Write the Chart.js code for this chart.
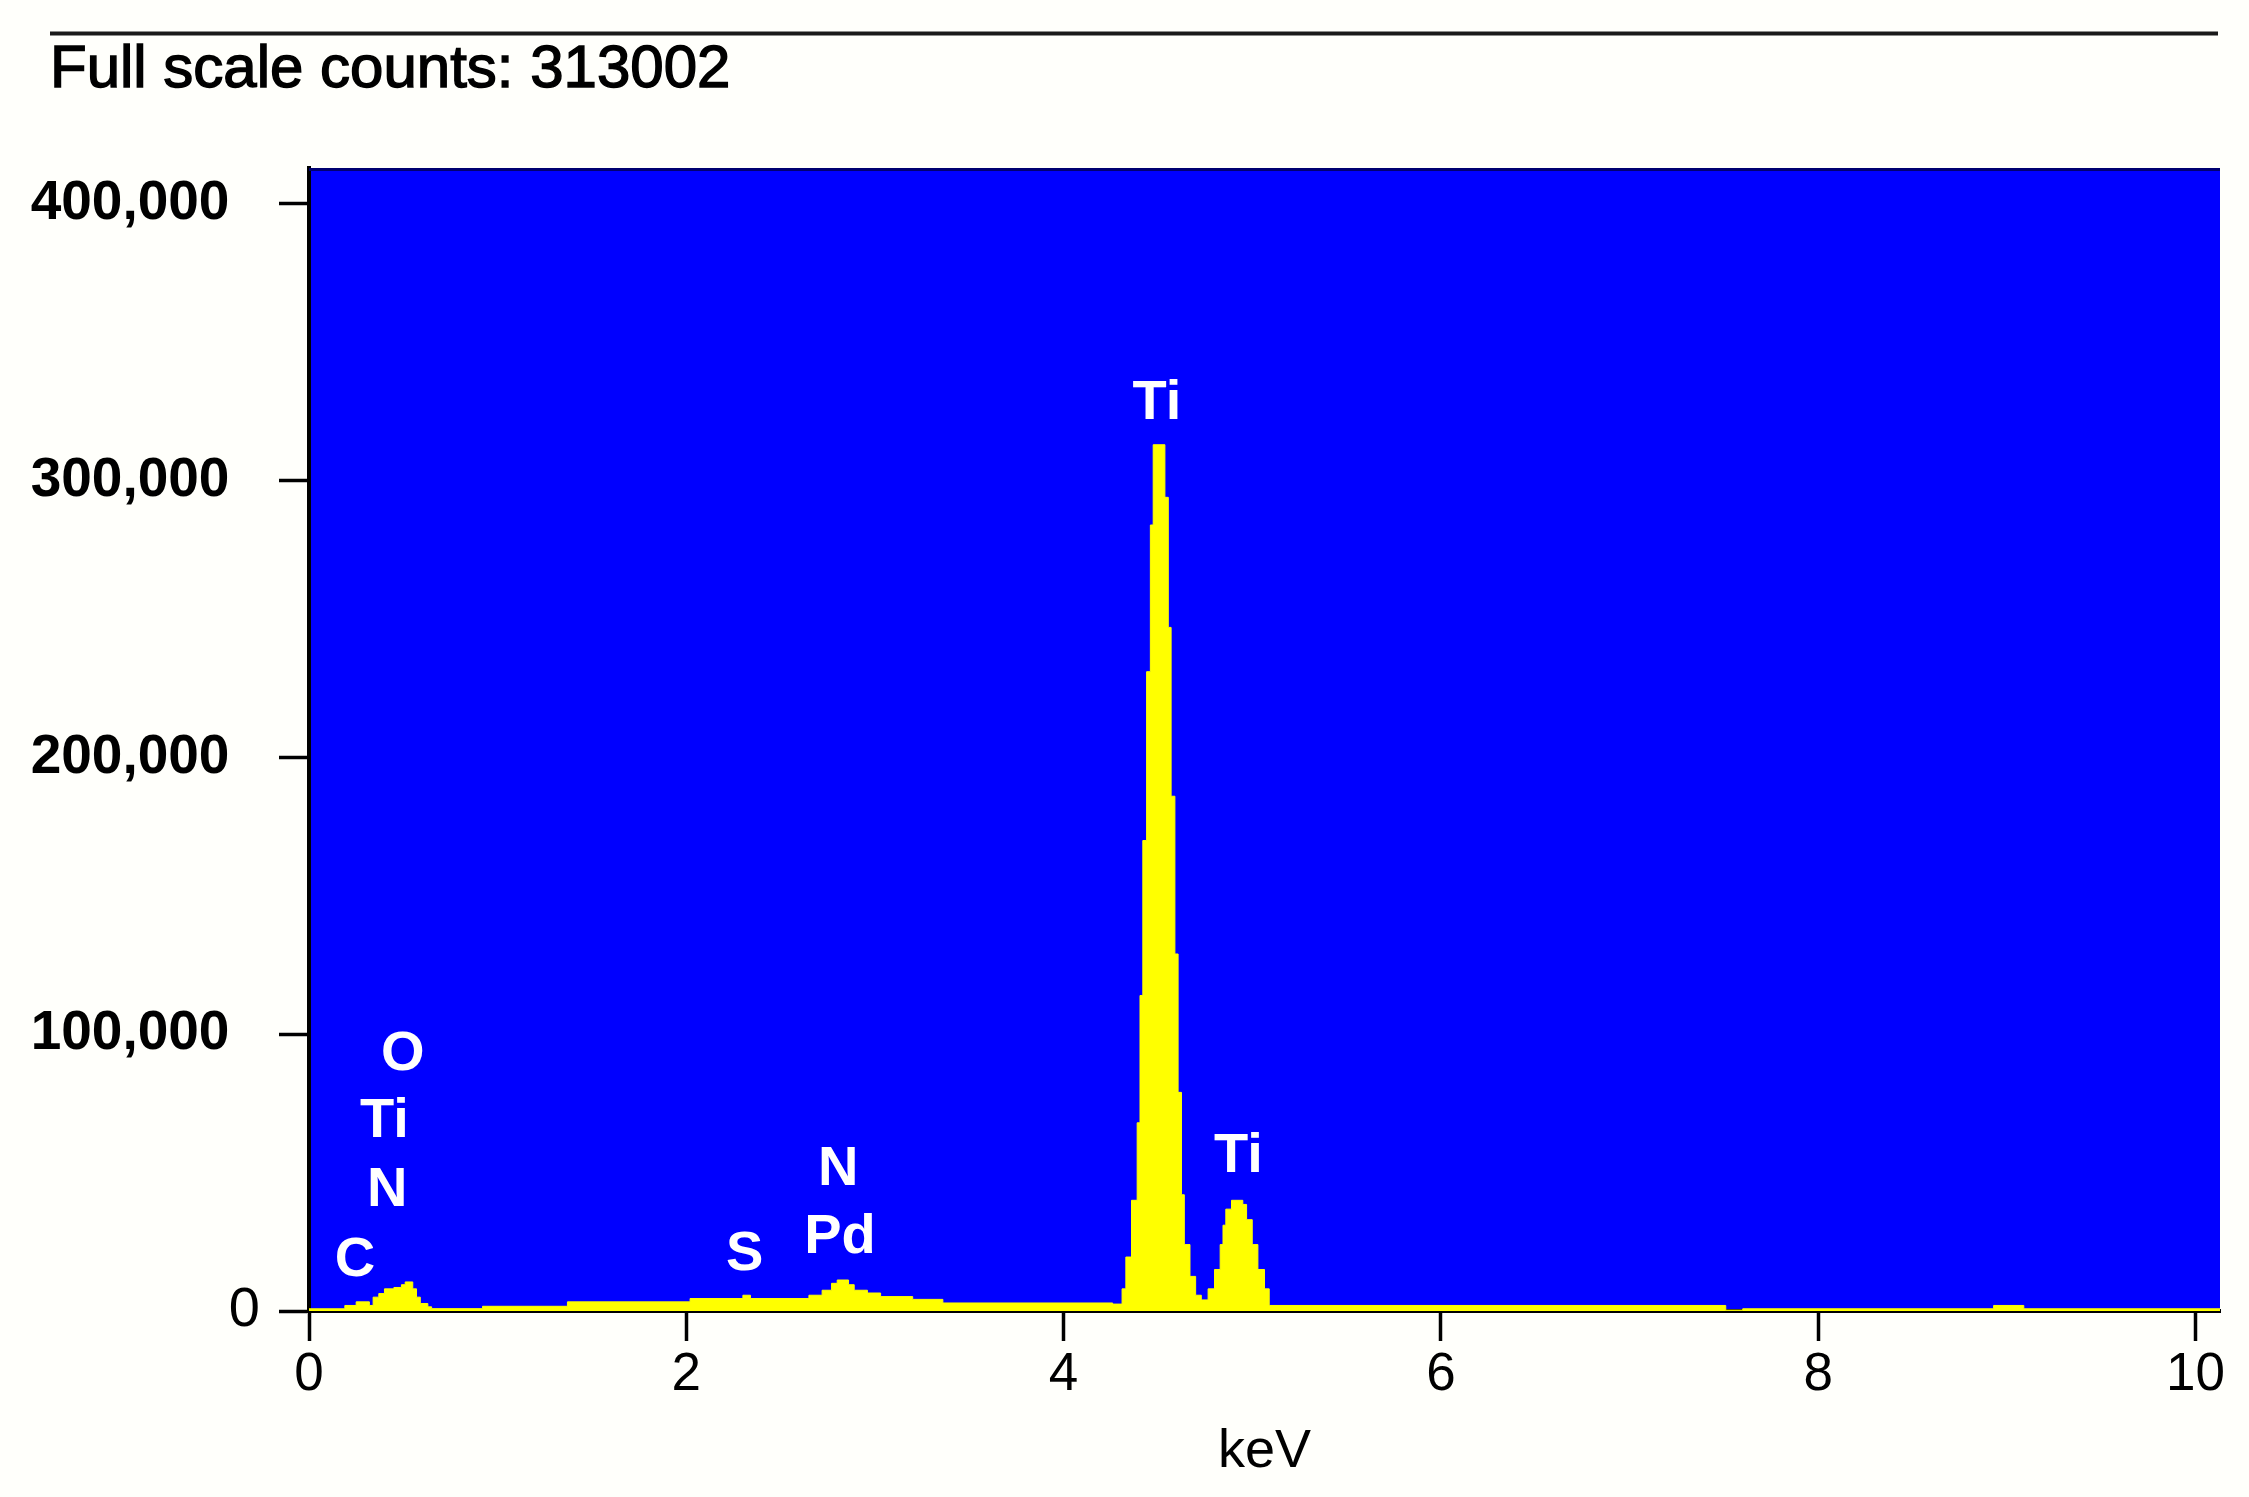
<!DOCTYPE html>
<html><head><meta charset="utf-8">
<script src="https://cdn.jsdelivr.net/npm/chart.js@4.4.0/dist/chart.umd.min.js"></script>
<style>html,body{margin:0;padding:0;background:#fffffb;} canvas{display:block;}</style>
</head><body>
<canvas id="c" width="2249" height="1497" style="width:2249px;height:1497px"></canvas>
<script>
// Spectrum: each level starts at the given energy (keV)
const energyKeV = [0.00,0.19,0.25,0.32,0.34,0.37,0.40,0.45,0.49,0.51,0.55,0.57,0.59,0.63,0.65,0.92,1.37,2.02,2.30,2.34,2.65,2.72,2.77,2.80,2.86,2.89,2.96,3.03,3.20,3.36,
  4.26,4.31,4.33,4.36,4.39,4.405,4.42,4.44,4.46,4.475,4.537,4.555,4.57,4.59,4.607,4.625,4.64,4.67,4.70,4.73,4.766,4.80,4.83,4.845,4.86,4.89,4.95,4.97,5.00,5.03,5.065,5.09,
  7.51,7.60,8.93,9.09,10.13];
const counts = [800,2000,3300,2000,5000,6300,8000,8500,9500,10500,8000,5000,2700,1500,850,1700,3300,4500,5700,4500,5700,7500,10000,11200,9500,7500,6500,5200,4200,2900,
  2500,8000,19500,40000,68000,114000,170000,231000,284000,313002,294000,247000,186000,129000,79000,42000,24000,12500,5700,4000,8000,15000,24000,31000,36800,40000,38500,33000,24000,15000,8000,2000,
  300,800,2000,800,800];
const xTickValues = [0,2,4,6,8,10];
const yTickValues = [0,100000,200000,300000,400000];
const peakLabels = ['O','Ti','N','C','S','N','Pd','Ti','Ti'];
const peakLabelKeV = [0.497,0.40,0.414,0.244,2.31,2.805,2.815,4.495,4.927];
const peakLabelCounts = [92600,68300,43500,18400,20300,51000,26400,328000,55800];
const titleText = 'Full scale counts: 313002';
const xAxisTitle = 'keV';

const FONT = '"Liberation Sans", Arial, sans-serif';

const decor = {
  id: 'decor',
  beforeDraw(chart) {
    const {ctx, chartArea: a} = chart;
    ctx.save();
    ctx.fillStyle = '#fffffb';
    ctx.fillRect(0, 0, chart.width, chart.height);
    ctx.fillStyle = '#0000ff';
    ctx.fillRect(a.left, a.top, a.right - a.left, a.bottom - a.top);
    ctx.strokeStyle = '#1a1a1a';
    ctx.lineWidth = 4;
    ctx.beginPath(); ctx.moveTo(50, 33.5); ctx.lineTo(2218, 33.5); ctx.stroke();
    ctx.fillStyle = '#000000';
    ctx.strokeStyle = '#000000';
    ctx.lineWidth = 1.4;
    ctx.font = '60px ' + FONT;
    ctx.textAlign = 'left'; ctx.textBaseline = 'alphabetic';
    ctx.fillText(titleText, 50, 87);
    ctx.strokeText(titleText, 50, 87);
    ctx.restore();
  },
  afterDatasetsDraw(chart) {
    const {ctx, chartArea: a, scales: {x, y}} = chart;
    ctx.save();
    ctx.strokeStyle = '#000070';
    ctx.lineWidth = 3;
    ctx.beginPath(); ctx.moveTo(a.left, a.top + 1.5); ctx.lineTo(a.right, a.top + 1.5); ctx.stroke();
    ctx.fillStyle = '#ffffff';
    ctx.font = 'bold 56px ' + FONT;
    ctx.textAlign = 'center'; ctx.textBaseline = 'middle';
    peakLabels.forEach((t, i) => {
      ctx.fillText(t, x.getPixelForValue(peakLabelKeV[i]), y.getPixelForValue(peakLabelCounts[i]));
    });
    ctx.restore();
  }
};

new Chart(document.getElementById('c'), {
  type: 'line',
  data: {
    datasets: [{
      data: energyKeV.map((e, i) => ({x: e, y: counts[i]})),
      stepped: 'before',
      fill: 'origin',
      backgroundColor: '#ffff00',
      borderColor: '#ffff00',
      borderWidth: 1,
      pointRadius: 0,
      tension: 0
    }]
  },
  options: {
    responsive: false,
    animation: false,
    devicePixelRatio: 1,
    layout: {padding: {top: 168, left: 0, right: 29, bottom: 0}},
    plugins: {legend: {display: false}, tooltip: {enabled: false}, title: {display: false}},
    scales: {
      x: {
        type: 'linear', min: 0, max: 10.13, z: 1,
        afterFit(s) { s.height = 186; },
        afterBuildTicks(s) { s.ticks = xTickValues.map(v => ({value: v})); },
        grid: {drawOnChartArea: false, drawTicks: true, tickLength: 30, tickWidth: 3.5, tickColor: '#000'},
        border: {display: true, color: '#000', width: 4},
        ticks: {color: '#000', padding: 3, font: {family: FONT, size: 53}, maxRotation: 0,
          callback: v => String(v)},
        title: {display: true, text: xAxisTitle, color: '#000', padding: {top: 0, bottom: 12},
          font: {family: FONT, size: 54}}
      },
      y: {
        type: 'linear', min: 0, max: 413000, z: 1,
        afterFit(s) { s.width = 309; },
        afterBuildTicks(s) { s.ticks = yTickValues.map(v => ({value: v})); },
        grid: {drawOnChartArea: false, drawTicks: true, tickLength: 30, tickWidth: 3.5, tickColor: '#000'},
        border: {display: true, color: '#000', width: 4},
        ticks: {color: '#000', padding: 19,
          font: c => (c.tick && c.tick.value === 0) ? {family: FONT, size: 56} : {family: FONT, size: 55, weight: 'bold'},
          callback: v => v === 0 ? '0' : v.toLocaleString('en-US') + '  '}
      }
    }
  },
  plugins: [decor]
});
</script>
</body></html>
